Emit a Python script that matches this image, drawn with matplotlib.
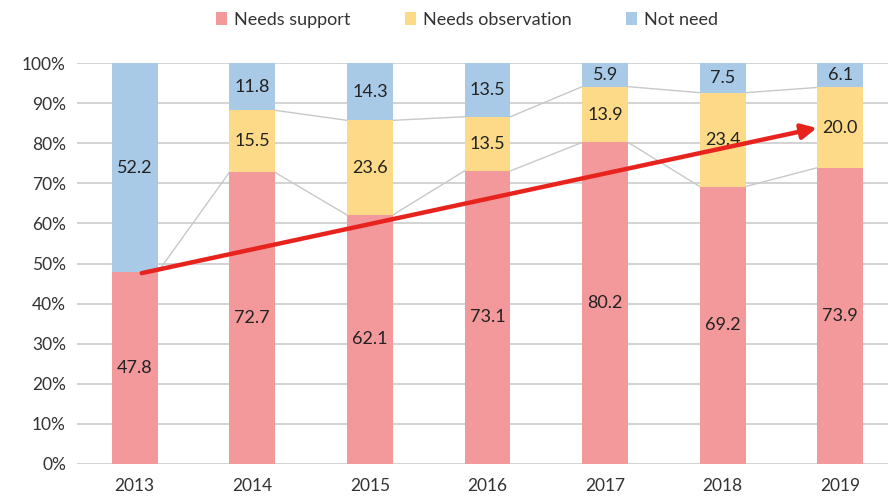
import numpy as np
import matplotlib.pyplot as plt

plt.rcParams['font.family'] = ['Lato', 'DejaVu Sans']

years = ['2013', '2014', '2015', '2016', '2017', '2018', '2019']
needs_support = [47.8, 72.7, 62.1, 73.1, 80.2, 69.2, 73.9]
needs_observation = [np.nan, 15.5, 23.6, 13.5, 13.9, 23.4, 20.0]
not_need = [52.2, 11.8, 14.3, 13.5, 5.9, 7.5, 6.1]

c_support = '#F4999B'
c_obs = '#FDDA87'
c_not = '#A9CAE7'

fig = plt.figure(figsize=(8.88, 5.0), dpi=100)
ax = fig.add_axes([77 / 888, 36 / 500, 821 / 888, 401 / 500])

x = np.arange(len(years))
w = 0.39
sup = np.array(needs_support) / 100
obs = np.nan_to_num(np.array(needs_observation)) / 100
nn = np.array(not_need) / 100

ax.bar(x, sup, w, color=c_support, label='Needs support', zorder=2)
ax.bar(x, obs, w, bottom=sup, color=c_obs, label='Needs observation', zorder=2)
ax.bar(x, nn, w, bottom=sup + obs, color=c_not, label='Not need', zorder=2)

# series lines between neighbouring bars
tops = [sup, sup + obs]
valid = [np.ones(len(x), bool), ~np.isnan(np.array(needs_observation))]
for t, ok in zip(tops, valid):
    for i in range(len(x) - 1):
        if ok[i] and ok[i + 1]:
            ax.plot([x[i] + w / 2, x[i + 1] - w / 2], [t[i], t[i + 1]],
                    color='#C8C8C8', lw=1.0, zorder=1)

# value labels
lab = dict(ha='center', va='center', fontsize=13, color='#222222', zorder=3)
for i in range(len(x)):
    ax.text(x[i], sup[i] / 2, f'{needs_support[i]:.1f}', **lab)
    if not np.isnan(needs_observation[i]):
        ax.text(x[i], sup[i] + obs[i] / 2, f'{needs_observation[i]:.1f}', **lab)
    ax.text(x[i], sup[i] + obs[i] + nn[i] / 2, f'{not_need[i]:.1f}', **lab)

# trend arrow
ax.annotate('', xy=(5.8, 0.838), xytext=(0.06, 0.476),
            arrowprops=dict(arrowstyle='-|>,head_length=0.9,head_width=0.45',
                            color='#E8231E', lw=3.2, shrinkA=0, shrinkB=0),
            zorder=4)

ax.set_xlim(-0.49, 6.49)
ax.set_ylim(0, 1)
ax.set_yticks(np.arange(0, 1.01, 0.1))
ax.set_yticklabels([f'{v}%' for v in range(0, 101, 10)])
ax.set_xticks(x)
ax.set_xticklabels(years)
ax.tick_params(axis='both', length=0, labelsize=12.5, colors='#333333')
ax.tick_params(axis='y', pad=8)
ax.tick_params(axis='x', pad=10)
ax.yaxis.grid(True, color='#D0D0D0', lw=1.3, zorder=0)
ax.set_axisbelow(True)
for s in ax.spines.values():
    s.set_visible(False)

fig.legend(loc='center', bbox_to_anchor=(467 / 888, 1 - 20 / 500), ncol=3,
           frameon=False, fontsize=13, handlelength=0.6, handleheight=0.7,
           columnspacing=3.0, handletextpad=0.4, labelcolor='#333333')

fig.savefig('out.png', dpi=100)
